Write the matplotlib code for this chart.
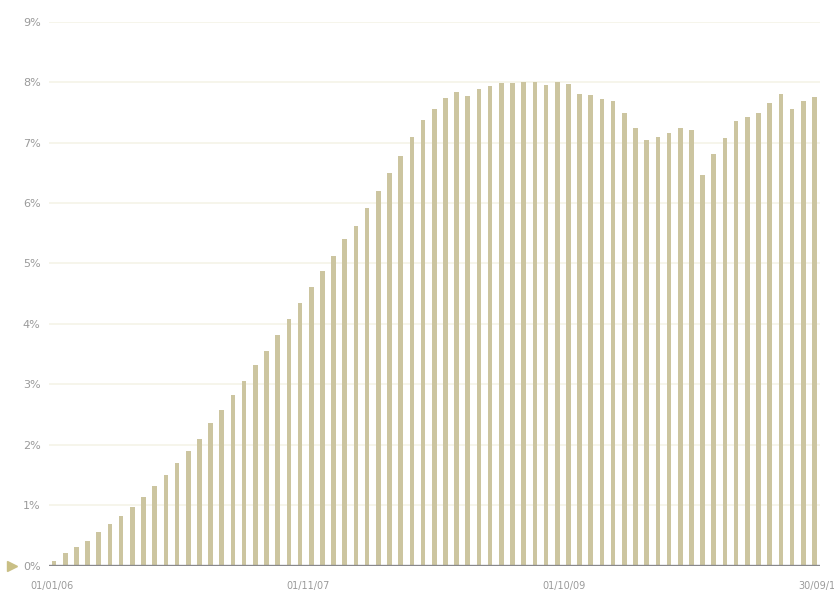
import numpy as np
import matplotlib
matplotlib.use("Agg")
import matplotlib.pyplot as plt
import matplotlib.transforms as mtransforms

# Monthly share values (%) from Jan 2006 to Sep 2011
months = [f"{m:02d}/{y:02d}" for y in range(6, 12) for m in range(1, 13)][:69]
values = [
    0.08, 0.20, 0.30, 0.41, 0.56, 0.68, 0.82, 0.97, 1.14, 1.31,
    1.49, 1.69, 1.90, 2.10, 2.36, 2.58, 2.82, 3.06, 3.32, 3.55,
    3.82, 4.08, 4.34, 4.61, 4.88, 5.13, 5.41, 5.62, 5.92, 6.19,
    6.50, 6.78, 7.09, 7.37, 7.56, 7.74, 7.84, 7.77, 7.89, 7.94,
    7.98, 7.99, 8.01, 8.00, 7.96, 8.00, 7.97, 7.81, 7.78, 7.72,
    7.68, 7.49, 7.24, 7.04, 7.10, 7.16, 7.24, 7.20, 6.46, 6.81,
    7.08, 7.36, 7.43, 7.49, 7.66, 7.80, 7.55, 7.69, 7.76,
]
date_labels = ["01/01/06", "01/11/07", "01/10/09", "30/09/11"]
y_ticks = list(range(0, 10))

bar_color = "#ccc5a0"
grid_color = "#f5f3e8"
text_color = "#9a9a9a"

fig = plt.figure(figsize=(8.34, 5.90), dpi=100)
ax = fig.add_axes([49 / 834, 1 - 565.5 / 590, 771 / 834, (565.5 - 21.7) / 590])

x = np.arange(len(values))
ax.bar(x, values, width=0.42, color=bar_color, zorder=2)

ax.set_xlim(-0.45, 68.3)
ax.set_ylim(0, 9)

for t in y_ticks[1:]:
    ax.axhline(t, color=grid_color, lw=1.2, zorder=1)
ax.axhline(0, color="#88888c", lw=2.4, zorder=3)

ax.set_yticks(y_ticks)
ax.set_yticklabels([f"{t}%" for t in y_ticks])
ax.set_xticks(np.linspace(-0.2, 68.5, len(date_labels)))
ax.set_xticklabels(date_labels)
ax.tick_params(axis="y", length=0, pad=6, labelsize=8, labelcolor=text_color)
ax.tick_params(axis="x", length=0, pad=11, labelsize=7, labelcolor=text_color)
for s in ax.spines.values():
    s.set_visible(False)

# small pointer marking the zero line
trans = mtransforms.blended_transform_factory(ax.transAxes, ax.transData)
ax.plot([-0.048], [0], marker=">", markersize=7, color="#c9bf85",
        transform=trans, clip_on=False, zorder=4)

fig.savefig("out.png", dpi=100)
